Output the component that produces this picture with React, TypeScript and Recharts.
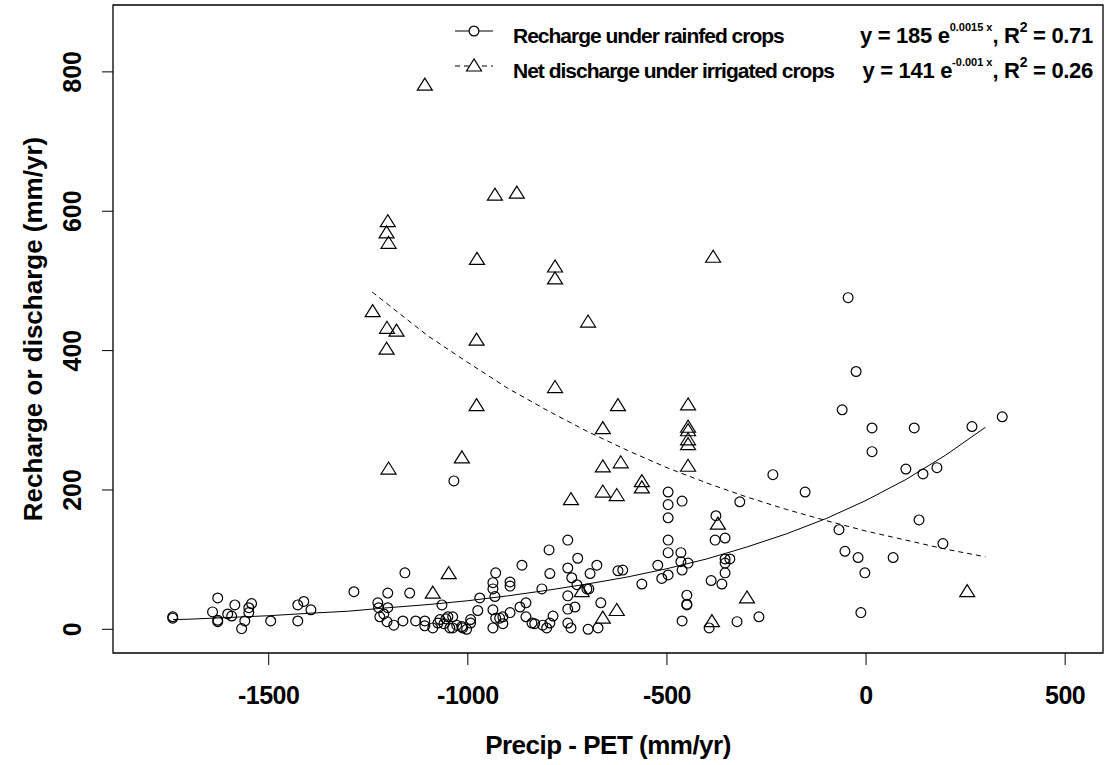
import React from 'react';
import { ScatterChart, Scatter, XAxis, YAxis, ReferenceArea } from 'recharts';

const FONT = '"Liberation Sans", Arial, Helvetica, sans-serif';

// axis ticks
const xTicks = [-1500, -1000, -500, 0, 500];
const yTicks = [0, 200, 400, 600, 800];

// recharge under rainfed crops (circles) [precip - PET, mm/yr]
const rainfed: [number, number][] = [
  [-1741, 16], [-1741, 18],
  [-1628, 45], [-1641, 25], [-1628, 13], [-1628, 11], [-1603, 22], [-1593, 19], [-1585, 35],
  [-1568, 1], [-1560, 12], [-1550, 31], [-1543, 37], [-1550, 24],
  [-1495, 12], [-1427, 35], [-1412, 40], [-1394, 28], [-1427, 12],
  [-1286, 54], [-1226, 38], [-1224, 31], [-1201, 52], [-1201, 31], [-1211, 22], [-1221, 18],
  [-1203, 11], [-1186, 6],
  [-1158, 81], [-1146, 52], [-1163, 12], [-1131, 12], [-1108, 12], [-1108, 5], [-1088, 2],
  [-1075, 9], [-1070, 14], [-1065, 35], [-1060, 8], [-1055, 15],
  [-1050, 18], [-1038, 18], [-1045, 2], [-1038, 2], [-1028, 6], [-1015, 4], [-1013, 2],
  [-1003, 0], [-993, 14], [-993, 9], [-1035, 213],
  [-975, 27], [-970, 45], [-937, 67], [-930, 81], [-937, 58], [-932, 47], [-937, 28], [-937, 2],
  [-930, 16], [-920, 16], [-912, 18], [-912, 8], [-894, 24], [-894, 68], [-894, 62],
  [-869, 32], [-864, 92], [-854, 38], [-854, 18], [-839, 9], [-832, 8], [-814, 58], [-812, 6],
  [-802, 2], [-796, 114], [-794, 80], [-794, 9], [-786, 19],
  [-749, 128], [-749, 88], [-749, 48], [-749, 29], [-749, 9], [-741, 2], [-739, 74], [-731, 32],
  [-726, 64], [-724, 102], [-701, 58], [-696, 58], [-698, 0], [-693, 80], [-676, 92], [-673, 2],
  [-666, 38],
  [-623, 84], [-611, 85], [-563, 65], [-523, 92], [-513, 73], [-497, 78],
  [-497, 197], [-497, 179], [-462, 184], [-497, 160], [-497, 128], [-497, 110], [-465, 110],
  [-465, 97], [-462, 85], [-447, 95], [-462, 12], [-450, 49], [-450, 35], [-450, 36],
  [-394, 2], [-389, 70], [-377, 163], [-379, 128], [-354, 131], [-354, 101], [-342, 101],
  [-354, 95], [-354, 81], [-362, 65], [-324, 11], [-317, 183], [-269, 18],
  [-234, 222], [-153, 197],
  [-68, 143], [-60, 315], [-53, 112], [-45, 476], [-25, 370], [-20, 103], [-13, 24], [-3, 81],
  [15, 289], [15, 255],
  [68, 103], [100, 230], [121, 289], [133, 157], [143, 223], [178, 232], [193, 123], [266, 291],
  [342, 305],
];

// net discharge under irrigated crops (triangles)
const irrigated: [number, number][] = [
  [-1108, 781], [-1201, 585], [-1204, 569], [-1199, 554], [-932, 623], [-877, 626], [-977, 531],
  [-1239, 456], [-1203, 432], [-1179, 428], [-1204, 402], [-978, 415], [-978, 321], [-1015, 246],
  [-1199, 230], [-1048, 80], [-1088, 52],
  [-781, 520], [-781, 503], [-384, 534], [-698, 441], [-781, 347], [-623, 321], [-447, 322],
  [-661, 288], [-447, 290], [-447, 285], [-447, 272], [-447, 265], [-661, 233], [-616, 239],
  [-447, 234], [-563, 212], [-563, 203], [-661, 197], [-626, 192], [-741, 186], [-372, 151],
  [-714, 54], [-299, 45], [-661, 16], [-626, 27], [-387, 11], [254, 54],
];

// fitted curves
const rainfedFit: [number, number][] = [
  [-1740, 14], [-1700, 14.5], [-1600, 17], [-1500, 19.5], [-1400, 23], [-1300, 26], [-1200, 31],
  [-1100, 35.5], [-1000, 41], [-900, 48], [-800, 56], [-700, 65], [-600, 75], [-500, 87],
  [-400, 101], [-300, 118], [-200, 137], [-100, 159], [0, 185], [100, 215], [200, 250], [300, 290],
];
const irrigatedFit: [number, number][] = [
  [-1240, 484], [-1200, 466], [-1100, 421], [-1000, 383], [-900, 346], [-800, 314], [-700, 284],
  [-600, 257], [-500, 232], [-400, 210], [-300, 190], [-200, 172], [-100, 156], [0, 141],
  [100, 128], [200, 115], [300, 104],
];

const toPts = (arr: [number, number][]) => arr.map(([x, y]) => ({ x, y }));

const Circle = (p: any) => (
  <circle cx={p.cx} cy={p.cy} r={4.9} fill="none" stroke="#000" strokeWidth={1.2} />
);
const Triangle = (p: any) => (
  <polygon
    points={`${p.cx},${p.cy - 7} ${p.cx - 7.5},${p.cy + 5} ${p.cx + 7.5},${p.cy + 5}`}
    fill="none"
    stroke="#000"
    strokeWidth={1.2}
  />
);
const NoDot = () => <g />;

const XTick = ({ x, y, payload }: any) => (
  <text x={x} y={y + 37} textAnchor="middle" fontFamily={FONT} fontWeight="bold" fontSize={25} fill="#000" letterSpacing={-0.5}>
    {payload.value}
  </text>
);
const YTick = ({ x, y, payload }: any) => (
  <text
    x={x - 19}
    y={y}
    transform={`rotate(-90, ${x - 19}, ${y})`}
    textAnchor="middle"
    fontFamily={FONT}
    fontWeight="bold"
    fontSize={25}
    fill="#000"
  >
    {payload.value}
  </text>
);

const XTitle = ({ viewBox }: any) => (
  <text x={viewBox.x + viewBox.width / 2} y={754} textAnchor="middle" fontFamily={FONT} fontWeight="bold" fontSize={26} fill="#000" letterSpacing={-0.5}>
    Precip - PET (mm/yr)
  </text>
);
const YTitle = ({ viewBox }: any) => {
  const cy = viewBox.y + viewBox.height / 2;
  return (
    <text x={42} y={cy} transform={`rotate(-90, 42, ${cy})`} textAnchor="middle" fontFamily={FONT} fontWeight="bold" fontSize={26} fill="#000">
      Recharge or discharge (mm/yr)
    </text>
  );
};

function LegendBlock() {
  const t = { fontFamily: FONT, fontWeight: 'bold' as const, fontSize: 21, fill: '#000', letterSpacing: -1 };
  const eq = { fontFamily: FONT, fontWeight: 'bold' as const, fontSize: 22, fill: '#000', letterSpacing: -0.3 };
  return (
    <svg width={1106} height={765} style={{ position: 'absolute', left: 0, top: 0, pointerEvents: 'none' }}>
      <line x1={455} y1={31} x2={493} y2={31} stroke="#000" strokeWidth={1.2} />
      <circle cx={474} cy={31} r={4.9} fill="#fff" stroke="#000" strokeWidth={1.2} />
      <line x1={455} y1={66} x2={493} y2={66} stroke="#000" strokeWidth={1.2} strokeDasharray="5 4" />
      <polygon points="474,59 466.5,71 481.5,71" fill="#fff" stroke="#000" strokeWidth={1.2} />

      <text x={513} y={43} {...t}>Recharge under rainfed crops</text>
      <text x={513} y={78} {...t}>Net discharge under irrigated crops</text>

      <text x={1093} y={43} textAnchor="end" {...eq}>
        y = 185 e
        <tspan fontSize={11} dy={-12} letterSpacing={0}>0.0015 x</tspan>
        <tspan dy={12}>, R</tspan>
        <tspan fontSize={14} dy={-11}>2</tspan>
        <tspan dy={11}> = 0.71</tspan>
      </text>
      <text x={1093} y={78} textAnchor="end" {...eq}>
        y = 141 e
        <tspan fontSize={11} dy={-12} letterSpacing={0}>-0.001 x</tspan>
        <tspan dy={12}>, R</tspan>
        <tspan fontSize={14} dy={-11}>2</tspan>
        <tspan dy={11}> = 0.26</tspan>
      </text>
    </svg>
  );
}

export default function App() {
  return (
    <div style={{ position: 'absolute', left: 0, top: 0, width: 1106, height: 765, background: '#fff' }}>
      <ScatterChart width={1106} height={765} margin={{ top: 5, right: 3, left: 0, bottom: 0 }}>
        <XAxis
          type="number"
          dataKey="x"
          domain={[-1891, 595]}
          ticks={xTicks}
          allowDataOverflow
          height={112}
          tickSize={12}
          tickLine={{ stroke: '#000', strokeWidth: 1 }}
          axisLine={false}
          tick={<XTick />}
          label={<XTitle />}
        />
        <YAxis
          type="number"
          dataKey="y"
          domain={[-34, 896]}
          ticks={yTicks}
          allowDataOverflow
          width={113}
          tickSize={11}
          tickLine={{ stroke: '#000', strokeWidth: 1 }}
          axisLine={false}
          tick={<YTick />}
          label={<YTitle />}
        />
        <ReferenceArea x1={-1891} x2={595} y1={-34} y2={896} fill="none" stroke="#000" strokeWidth={1.3} fillOpacity={0} />
        <Scatter data={toPts(rainfed)} shape={Circle} isAnimationActive={false} />
        <Scatter data={toPts(irrigated)} shape={Triangle} isAnimationActive={false} />
        <Scatter
          data={toPts(rainfedFit)}
          shape={NoDot}
          line={{ stroke: '#000', strokeWidth: 1 }}
          lineType="joint"
          isAnimationActive={false}
        />
        <Scatter
          data={toPts(irrigatedFit)}
          shape={NoDot}
          line={{ stroke: '#000', strokeWidth: 1, strokeDasharray: '5 4' }}
          lineType="joint"
          isAnimationActive={false}
        />
      </ScatterChart>
      <LegendBlock />
    </div>
  );
}
